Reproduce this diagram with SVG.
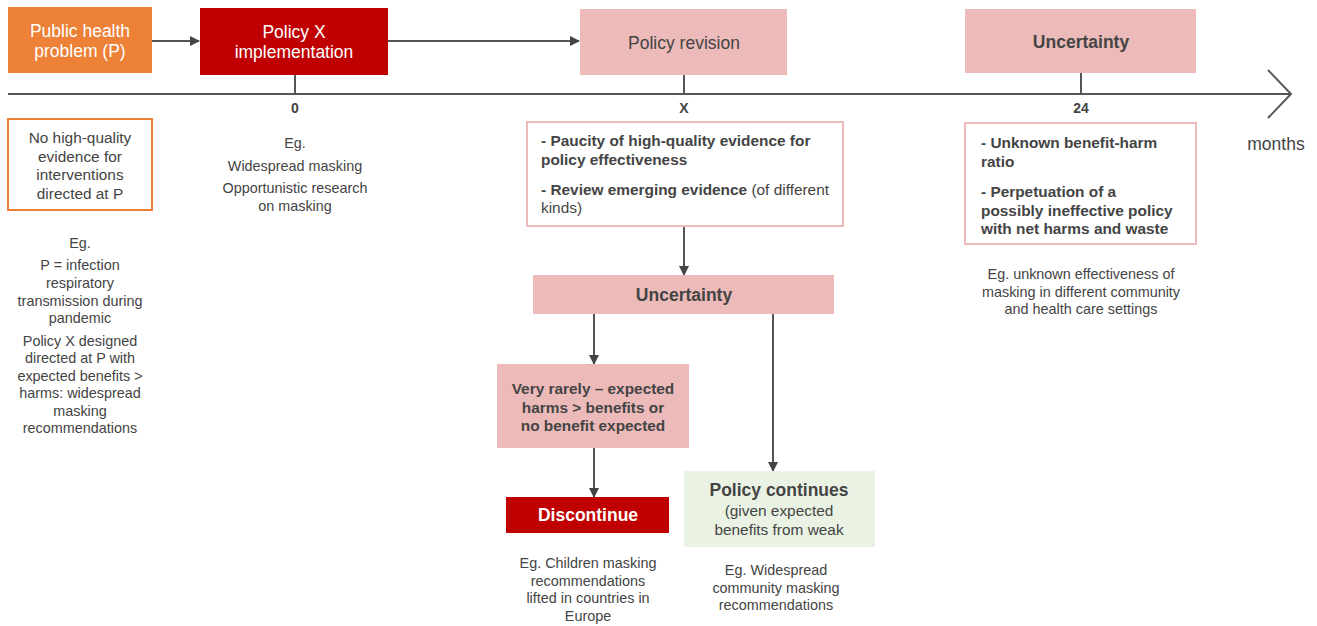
<svg xmlns="http://www.w3.org/2000/svg" width="1317" height="626" viewBox="0 0 1317 626">
<style>
text{font-family:"Liberation Sans",Arial,sans-serif;fill:#444;}
.c{text-anchor:middle;}
.w{fill:#fff;}
.b{font-weight:bold;}
.t16{font-size:17.5px;}
.t14{font-size:15.4px;}
.t13{font-size:14.4px;}
.ax{font-size:14px;font-weight:bold;}
.ln{stroke:#555;stroke-width:2;fill:none;}
.pink{fill:#EDBABA;}
.pinkO{fill:#fff;stroke:#EDBABA;stroke-width:2;}
.red{fill:#C00000;}
</style>
<defs>
<marker id="ah" markerWidth="10" markerHeight="10" refX="9" refY="5" orient="auto" markerUnits="userSpaceOnUse">
<path d="M0,0 L10,5 L0,10 Z" fill="#444"/>
</marker>
</defs>
<rect width="1317" height="626" fill="#fff"/>
<g id="connectors">
<line class="ln" x1="8" y1="94" x2="1290" y2="94"/>
<polyline class="ln" points="1268,70 1291,94 1268,118"/>
<line class="ln" x1="295" y1="75" x2="295" y2="94"/>
<line class="ln" x1="684" y1="75" x2="684" y2="94"/>
<line class="ln" x1="1081" y1="73" x2="1081" y2="94"/>
<line class="ln" x1="152" y1="41" x2="199" y2="41" marker-end="url(#ah)"/>
<line class="ln" x1="388" y1="41" x2="579" y2="41" marker-end="url(#ah)"/>
<line class="ln" x1="684" y1="226" x2="684" y2="275" marker-end="url(#ah)"/>
<line class="ln" x1="594" y1="314" x2="594" y2="364" marker-end="url(#ah)"/>
<line class="ln" x1="773" y1="314" x2="773" y2="471" marker-end="url(#ah)"/>
<line class="ln" x1="594" y1="448" x2="594" y2="497" marker-end="url(#ah)"/>
</g>
<g id="axis-labels">
<text class="c ax" x="295" y="113">0</text>
<text class="c ax" x="684" y="113">X</text>
<text class="c ax" x="1081" y="113">24</text>
<text class="c t16" x="1276" y="150">months</text>
</g>
<g id="public-health-problem">
<rect x="8" y="7" width="144" height="66" fill="#EC8137"/>
<text class="c w t16" x="80" y="37">Public health</text>
<text class="c w t16" x="80" y="57">problem (P)</text>
</g>
<g id="policy-x">
<rect class="red" x="200" y="8" width="188" height="67"/>
<text class="c w t16" x="294" y="38">Policy X</text>
<text class="c w t16" x="294" y="58">implementation</text>
</g>
<g id="policy-revision">
<rect class="pink" x="580" y="9" width="207" height="66"/>
<text class="c t16" x="684" y="49">Policy revision</text>
</g>
<g id="uncertainty-top">
<rect class="pink" x="965" y="9" width="231" height="64"/>
<text class="c b t16" x="1081" y="48">Uncertainty</text>
</g>
<g id="no-evidence">
<rect x="8" y="119" width="144" height="91" fill="#fff" stroke="#EC8137" stroke-width="2"/>
<text class="c t14" x="80" y="143">No high-quality</text>
<text class="c t14" x="80" y="162">evidence for</text>
<text class="c t14" x="80" y="180">interventions</text>
<text class="c t14" x="80" y="199">directed at P</text>
</g>
<g id="eg-left">
<text class="c t13" x="80" y="248">Eg.</text>
<text class="c t13" x="80" y="270">P = infection</text>
<text class="c t13" x="80" y="288">respiratory</text>
<text class="c t13" x="80" y="306">transmission during</text>
<text class="c t13" x="80" y="323">pandemic</text>
<text class="c t13" x="80" y="346">Policy X designed</text>
<text class="c t13" x="80" y="363">directed at P with</text>
<text class="c t13" x="80" y="381">expected benefits &gt;</text>
<text class="c t13" x="80" y="398">harms: widespread</text>
<text class="c t13" x="80" y="416">masking</text>
<text class="c t13" x="80" y="433">recommendations</text>
</g>
<g id="eg-zero">
<text class="c t13" x="295" y="148">Eg.</text>
<text class="c t13" x="295" y="171">Widespread masking</text>
<text class="c t13" x="295" y="193">Opportunistic research</text>
<text class="c t13" x="295" y="211">on masking</text>
</g>
<g id="paucity">
<rect class="pinkO" x="527" y="122" width="316" height="104"/>
<text class="b t14" x="541" y="146">- Paucity of high-quality evidence for</text>
<text class="b t14" x="541" y="165">policy effectiveness</text>
<text class="t14" x="541" y="195"><tspan class="b">- Review emerging evidence</tspan> (of different</text>
<text class="t14" x="541" y="213">kinds)</text>
</g>
<g id="uncertainty-mid">
<rect class="pink" x="533" y="275" width="301" height="39"/>
<text class="c b t16" x="684" y="301">Uncertainty</text>
</g>
<g id="very-rarely">
<rect class="pink" x="497" y="364" width="192" height="84"/>
<text class="c b t14" x="593" y="394">Very rarely – expected</text>
<text class="c b t14" x="593" y="413">harms &gt; benefits or</text>
<text class="c b t14" x="593" y="431">no benefit expected</text>
</g>
<g id="discontinue">
<rect class="red" x="506" y="497" width="163" height="36"/>
<text class="c w b t16" x="588" y="521">Discontinue</text>
</g>
<g id="policy-continues">
<rect x="684" y="471" width="191" height="76" fill="#EAF3E3"/>
<text class="c b t16" x="779" y="496">Policy continues</text>
<text class="c t14" x="779" y="516">(given expected</text>
<text class="c t14" x="779" y="535">benefits from weak</text>
</g>
<g id="eg-discontinue">
<text class="c t13" x="588" y="568">Eg. Children masking</text>
<text class="c t13" x="588" y="586">recommendations</text>
<text class="c t13" x="588" y="603">lifted in countries in</text>
<text class="c t13" x="588" y="621">Europe</text>
</g>
<g id="eg-continues">
<text class="c t13" x="776" y="575">Eg. Widespread</text>
<text class="c t13" x="776" y="593">community masking</text>
<text class="c t13" x="776" y="610">recommendations</text>
</g>
<g id="unknown-ratio">
<rect class="pinkO" x="965" y="123" width="231" height="121"/>
<text class="b t14" x="981" y="148">- Unknown benefit-harm</text>
<text class="b t14" x="981" y="167">ratio</text>
<text class="b t14" x="981" y="197">- Perpetuation of a</text>
<text class="b t14" x="981" y="216">possibly ineffective policy</text>
<text class="b t14" x="981" y="234">with net harms and waste</text>
</g>
<g id="eg-right">
<text class="c t13" x="1081" y="279">Eg. unknown effectiveness of</text>
<text class="c t13" x="1081" y="297">masking in different community</text>
<text class="c t13" x="1081" y="314">and health care settings</text>
</g>
</svg>
